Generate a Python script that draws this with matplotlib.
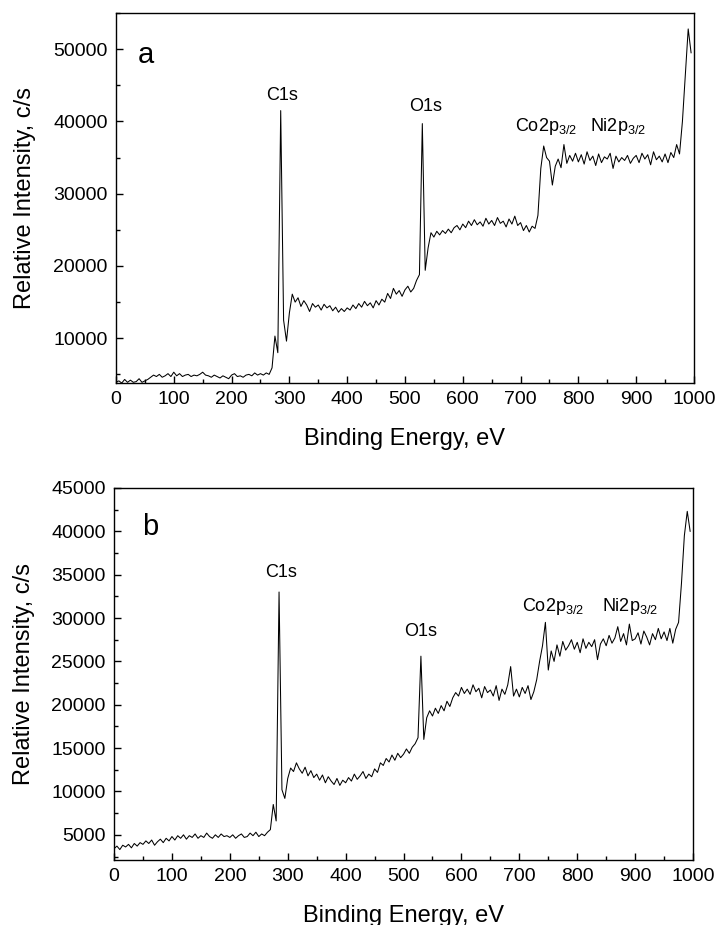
import numpy as np
import matplotlib
matplotlib.use("Agg")
import matplotlib.pyplot as plt
from matplotlib.ticker import MultipleLocator

plt.rcParams["font.family"] = ["Liberation Sans", "DejaVu Sans"]
plt.rcParams["mathtext.default"] = "regular"

# binding energy grid (eV), 5 eV steps
energy = np.arange(0, 1000, 5)

# panel a, counts per second
intensity_a = [
    3900, 4100, 3800, 4300, 3900, 4200, 3900, 4000, 4400, 3900,
    4100, 4300, 4600, 4900, 4700, 5000, 4600, 4800, 5100, 4700,
    5300, 4800, 5100, 4700, 4900, 5000, 4700, 4900, 4800, 5000,
    5300, 4900, 4800, 4600, 4900, 4700, 4500, 4800, 4600, 4400,
    4900, 5100, 4700, 4800, 4600, 4900, 5000, 4800, 5200, 4900,
    5100, 4900, 5200, 5000, 5900, 10300, 8000, 41500, 12500, 9600,
    13500, 16100, 15000, 15600, 14400, 15200, 14600, 13700, 14800, 14300,
    14600, 13900, 14700, 14200, 14500, 13800, 14300, 13600, 14100, 13700,
    14200, 13900, 14600, 14100, 14800, 14300, 15100, 14500, 14900, 14200,
    15200, 14600, 15400, 15000, 16200, 15500, 16900, 16100, 16600, 15800,
    16700, 17200, 16400, 16900, 18000, 18800, 39700, 19400, 22500, 24600,
    24000, 24800, 24300, 24900, 24500, 25100, 24600, 25300, 25600, 25000,
    25800, 25300, 26200, 25600, 26400, 25700, 26100, 25500, 26600, 25800,
    26300, 25600, 26700, 25900, 26200, 25400, 26500, 25800, 26900, 25600,
    26000, 24900, 25600, 24700, 25500, 25200, 27000, 33500, 36600, 35000,
    34500, 31200, 33800, 34800, 33600, 36800, 34200, 35300, 34500, 35600,
    34400, 35400, 34100, 35800, 34600, 35200, 33900, 35500, 34300, 35100,
    34800, 35600, 33500, 35200, 34400, 35000, 34600, 35300, 34200, 34900,
    35300, 34300, 35600, 34800, 35400, 34000, 35800, 34700, 35200, 34400,
    35500, 34300, 35700, 35000, 36800, 35500, 40000, 46500, 52800, 49500,
]

# panel b
intensity_b = [
    3400, 3700, 3300, 3800, 3600, 3900, 3500, 4000, 3700, 4100,
    3900, 4300, 4000, 4400, 3800, 4200, 4500, 4100, 4600, 4300,
    4800, 4400, 4900, 4600, 5000, 4500, 4900, 4700, 5100, 4600,
    4900, 4700, 5200, 4800, 4600, 5000, 4700, 5100, 4800, 4900,
    4700, 5000, 4600, 4900, 5100, 4700, 4800, 5200, 4900, 5300,
    4800, 5100, 4900, 5300, 5600, 8500, 6600, 33000, 10200, 9200,
    11500, 12700, 12300, 13300, 12600, 12100, 12800, 11800, 12400, 11600,
    12000, 11300, 11900, 11000, 11700, 11200, 10800, 11500, 10700, 11300,
    11000, 11600, 11200, 12000, 11400, 11800, 12300, 11500, 12000, 11700,
    12600, 12200, 13300, 13000, 13800, 13400, 14200, 13600, 14400, 13900,
    14300, 14900, 14400, 15100, 15500, 16200, 25600, 16000, 18500, 19300,
    18700, 19600, 19000, 19900, 19300, 20400, 19800, 20800, 21400, 21000,
    22000, 21300, 21800, 21200, 22300, 21500, 21900, 20800, 22100, 21400,
    21700, 21000, 22200, 20500, 21800, 21200, 22300, 24400, 21000, 21800,
    20900, 22000, 21300, 22200, 20600, 21500, 22900, 25000, 26800, 29500,
    24000, 26200, 25000, 26900, 25600, 27300, 26300, 26800, 27500, 26400,
    27200, 26000, 27600, 26500, 27200, 26700, 27500, 25200, 27000, 27600,
    26800, 28000, 27100, 27700, 29000, 27300, 28200, 26900, 29300, 27400,
    27600, 28300, 27000, 28500, 27800, 26900, 28200, 27500, 28800, 27600,
    28400, 27400, 28800, 27100, 28700, 29500, 34000, 39500, 42300, 40000,
]

peak_names = ["C1s", "O1s", "Co2p$_{3/2}$", "Ni2p$_{3/2}$"]
# label anchor (energy, intensity) for each panel
label_pos_a = [(288, 43000, "center"), (535, 41500, "center"),
               (690, 38700, "left"), (820, 38700, "left")]
label_pos_b = [(288, 34700, "center"), (530, 27900, "center"),
               (705, 30800, "left"), (843, 30800, "left")]

fig = plt.figure(figsize=(7.19, 9.25), dpi=100)
ax_a = fig.add_axes([0.1613, 0.5859, 0.8039, 0.4])
ax_b = fig.add_axes([0.1586, 0.0703, 0.8053, 0.4022])

panels = [
    (ax_a, intensity_a, label_pos_a, "a", (3800, 55000), 10000, 5000, (0.038, 0.865)),
    (ax_b, intensity_b, label_pos_b, "b", (2100, 45000), 5000, 2500, (0.048, 0.874)),
]

for ax, y, lpos, tag, ylim, ymaj, ymin, tagxy in panels:
    ax.plot(energy, y, color="black", linewidth=0.75)
    ax.set_xlim(0, 1000)
    ax.set_ylim(*ylim)
    ax.xaxis.set_major_locator(MultipleLocator(100))
    ax.xaxis.set_minor_locator(MultipleLocator(50))
    ax.yaxis.set_major_locator(MultipleLocator(ymaj))
    ax.yaxis.set_minor_locator(MultipleLocator(ymin))
    ax.tick_params(which="both", direction="in", labelsize=14, pad=6,
                   top=False, right=False)
    ax.tick_params(which="major", length=5, width=1)
    ax.tick_params(which="minor", length=3, width=1)
    for s in ax.spines.values():
        s.set_linewidth(1.0)
    ax.set_xlabel("Binding Energy, eV", fontsize=17, labelpad=14)
    ax.set_ylabel("Relative Intensity, c/s", fontsize=17, labelpad=12)
    ax.text(tagxy[0], tagxy[1], tag, transform=ax.transAxes, fontsize=21,
            va="baseline", ha="left")
    for name, (ex, ey, ha) in zip(peak_names, lpos):
        ax.text(ex, ey, name, fontsize=13, ha=ha, va="baseline")

fig.savefig("out.png", dpi=100)
